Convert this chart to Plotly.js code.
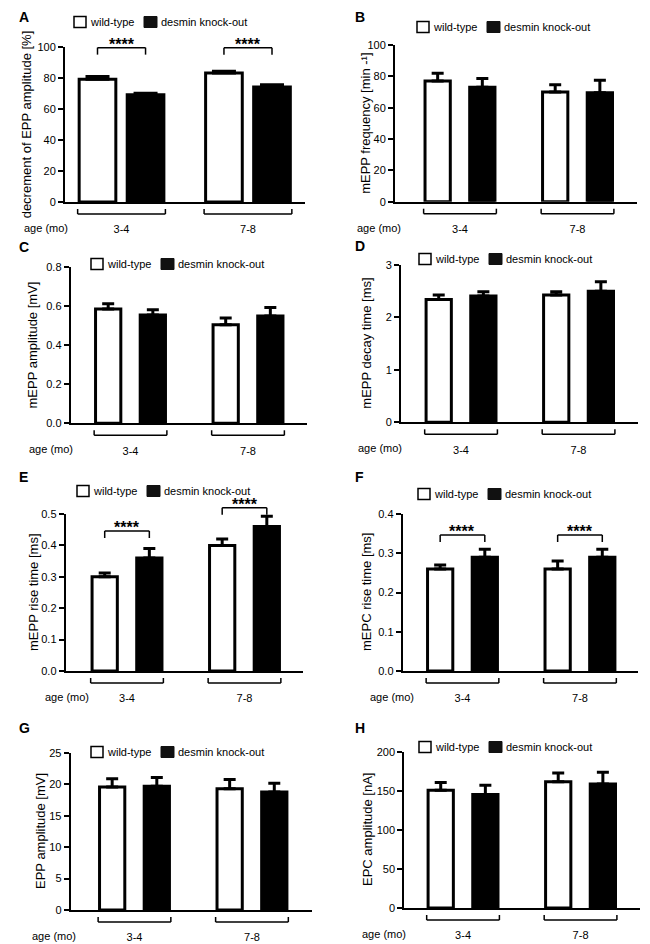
<!DOCTYPE html>
<html><head><meta charset="utf-8">
<script src="https://cdn.plot.ly/plotly-3.0.1.min.js"></script>
<style>html,body{margin:0;padding:0;background:#fff}#chart{width:650px;height:944px}</style>
</head><body><div id="chart"></div>
<script>
// ---------- data ----------
const groups = ['3-4', '7-8'];
const seriesNames = ['wild-type', 'desmin knock-out'];
const panelLetters = ['A', 'B', 'C', 'D', 'E', 'F', 'G', 'H'];
const yTitles = [
  'decrement of EPP amplitude [%]',
  'mEPP frequency [min -\u00B9]',
  'mEPP amplitude [mV]',
  'mEPP decay time [ms]',
  'mEPP rise time [ms]',
  'mEPC rise time [ms]',
  'EPP amplitude [mV]',
  'EPC amplitude [nA]'
];
const ageLabel = 'age (mo)';
const sigLabel = '****';

const wtA = [79, 83];        const wtErrA = [1.8, 1.2];
const koA = [69, 74];        const koErrA = [1.0, 1.5];
const wtB = [77, 70];        const wtErrB = [5.0, 4.7];
const koB = [73, 69.5];      const koErrB = [5.7, 8.0];
const wtC = [0.584, 0.504];  const wtErrC = [0.027, 0.034];
const koC = [0.553, 0.548];  const koErrC = [0.027, 0.043];
const wtD = [2.34, 2.43];    const wtErrD = [0.09, 0.06];
const koD = [2.41, 2.50];    const koErrD = [0.08, 0.18];
const wtE = [0.30, 0.40];    const wtErrE = [0.012, 0.02];
const koE = [0.36, 0.46];    const koErrE = [0.03, 0.033];
const wtF = [0.26, 0.26];    const wtErrF = [0.01, 0.02];
const koF = [0.29, 0.29];    const koErrF = [0.02, 0.02];
const wtG = [19.6, 19.3];    const wtErrG = [1.3, 1.5];
const koG = [19.7, 18.8];    const koErrG = [1.4, 1.4];
const wtH = [151, 162];      const wtErrH = [10, 11];
const koH = [145.5, 159];    const koErrH = [12, 15];

// ---------- layout (pixel geometry of each panel) ----------
const W = 650, H = 944;
const FONT = 'Liberation Sans, Arial, Helvetica, sans-serif';
const panels = [
  {wt: wtA, wtErr: wtErrA, ko: koA, koErr: koErrA, L: 65, R: 305, B: 202, T: 46.7, yMax: 100, dtick: 20, fmt: '', xr: [-0.447, 1.451], bw: 0.29, cap: 12, leg: [74, 22], ageX: 22, titleX: 26, letter: [17, 17], sig: [99.4, 99.4]},
  {wt: wtB, wtErr: wtErrB, ko: koB, koErr: koErrB, L: 395, R: 637, B: 201.7, T: 45, yMax: 100, dtick: 20, fmt: '', xr: [-0.553, 1.506], bw: 0.215, cap: 6, leg: [417, 27], ageX: 355, titleX: 365.5, letter: [353, 17], sig: null},
  {wt: wtC, wtErr: wtErrC, ko: koC, koErr: koErrC, L: 70.7, R: 307, B: 423.3, T: 266.7, yMax: 0.8, dtick: 0.2, fmt: '.1f', xr: [-0.509, 1.502], bw: 0.215, cap: 6, leg: [91, 264], ageX: 27, titleX: 31.5, letter: [17, 247], sig: null},
  {wt: wtD, wtErr: wtErrD, ko: koD, koErr: koErrD, L: 401, R: 638, B: 422.3, T: 265, yMax: 3, dtick: 1, fmt: '', xr: [-0.511, 1.506], bw: 0.215, cap: 6, leg: [419, 259], ageX: 356, titleX: 367, letter: [353, 245.5], sig: null},
  {wt: wtE, wtErr: wtErrE, ko: koE, koErr: koErrE, L: 65.7, R: 303, B: 671, T: 514, yMax: 0.5, dtick: 0.1, fmt: '.1f', xr: [-0.522, 1.498], bw: 0.215, cap: 6, leg: [77, 491], ageX: 43, titleX: 33.5, letter: [17, 477], sig: [0.446, 0.52]},
  {wt: wtF, wtErr: wtErrF, ko: koF, koErr: koErrF, L: 402.7, R: 638, B: 671, T: 514, yMax: 0.4, dtick: 0.1, fmt: '.1f', xr: [-0.509, 1.494], bw: 0.215, cap: 6, leg: [418, 494], ageX: 368, titleX: 366.5, letter: [353, 477], sig: [0.3465, 0.3465]},
  {wt: wtG, wtErr: wtErrG, ko: koG, koErr: koErrG, L: 70.7, R: 312, B: 910, T: 753, yMax: 25, dtick: 5, fmt: '', xr: [-0.543, 1.511], bw: 0.215, cap: 6, leg: [91, 752], ageX: 30, titleX: 40.5, letter: [17, 728], sig: null},
  {wt: wtH, wtErr: wtErrH, ko: koH, koErr: koErrH, L: 404.3, R: 640, B: 908, T: 752, yMax: 200, dtick: 50, fmt: '', xr: [-0.5, 1.506], bw: 0.215, cap: 6, leg: [419, 747], ageX: 360, titleX: 367, letter: [353, 728], sig: null}
];
const HALF = 0.19; // distance from group centre to bar centre (category units)

const px = x => x / W;
const py = y => 1 - y / H;

const traces = [];
const shapes = [];
const annotations = [];
const layout = {
  width: W, height: H,
  margin: {l: 0, r: 0, t: 0, b: 0},
  paper_bgcolor: '#fff', plot_bgcolor: 'rgba(0,0,0,0)',
  showlegend: false, barmode: 'overlay',
  font: {family: FONT, color: '#000', size: 11}
};

panels.forEach((p, i) => {
  const n = i === 0 ? '' : String(i + 1);
  const xid = 'x' + n, yid = 'y' + n;
  const plotH = p.B - p.T;

  layout['xaxis' + n] = {
    domain: [px(p.L), px(p.R)], anchor: yid, type: 'category',
    categoryorder: 'array', categoryarray: groups,
    range: p.xr, showline: true, linewidth: 2, linecolor: '#000',
    ticks: '', showgrid: false, zeroline: false, fixedrange: true,
    tickfont: {size: 11, family: FONT, color: '#000'}, ticklabelstandoff: 16
  };
  layout['yaxis' + n] = {
    domain: [py(p.B), py(p.T)], anchor: xid, range: [0, p.yMax],
    tick0: 0, dtick: p.dtick, tickformat: p.fmt,
    ticks: 'outside', ticklen: 5, tickwidth: 2, tickcolor: '#000',
    showline: true, linewidth: 2, linecolor: '#000',
    showgrid: false, zeroline: false, fixedrange: true,
    tickfont: {size: 11, family: FONT, color: '#000'}
  };

  // y-axis title (rotated text, centred on the plot area)
  annotations.push({xref: 'paper', yref: 'paper', x: px(p.titleX), y: py((p.B + p.T) / 2),
    xanchor: 'center', yanchor: 'middle', textangle: -90, showarrow: false,
    text: yTitles[i], font: {size: 13, family: FONT, color: '#000'}});

  const series = [
    {y: p.wt, err: p.wtErr, fill: '#ffffff', off: -HALF},
    {y: p.ko, err: p.koErr, fill: '#000000', off: HALF}
  ];
  series.forEach((s, k) => {
    traces.push({
      type: 'bar', name: seriesNames[k], x: groups, y: s.y,
      xaxis: xid, yaxis: yid,
      width: p.bw, offset: s.off - p.bw / 2,
      marker: {color: s.fill, line: {color: '#000', width: 3}},
      error_y: {type: 'data', symmetric: false, array: s.err,
                arrayminus: s.err.map(() => 0), color: '#000', thickness: 3, width: p.cap},
      hoverinfo: 'skip', showlegend: false
    });
  });

  // group brackets under the x axis
  const gh = HALF + p.bw / 2 + 0.012;
  const yb = -12 / plotH, yt = -7 / plotH;
  const ydom = yid + ' domain';
  groups.forEach((g, gi) => {
    const ln = {color: '#000', width: 1.5};
    shapes.push({type: 'line', xref: xid, yref: ydom, x0: gi - gh, x1: gi + gh, y0: yb, y1: yb, line: ln});
    shapes.push({type: 'line', xref: xid, yref: ydom, x0: gi - gh, x1: gi - gh, y0: yb, y1: yt, line: ln});
    shapes.push({type: 'line', xref: xid, yref: ydom, x0: gi + gh, x1: gi + gh, y0: yb, y1: yt, line: ln});
  });

  // significance brackets
  if (p.sig) {
    groups.forEach((g, gi) => {
      const sy = p.sig[gi] / p.yMax;
      const sd = sy - 7 / plotH;
      const ln = {color: '#000', width: 1.5};
      shapes.push({type: 'line', xref: xid, yref: ydom, x0: gi - HALF, x1: gi + HALF, y0: sy, y1: sy, line: ln});
      shapes.push({type: 'line', xref: xid, yref: ydom, x0: gi - HALF, x1: gi - HALF, y0: sy, y1: sd, line: ln});
      shapes.push({type: 'line', xref: xid, yref: ydom, x0: gi + HALF, x1: gi + HALF, y0: sy, y1: sd, line: ln});
      annotations.push({xref: xid, yref: ydom, x: gi, y: sy, text: sigLabel, showarrow: false,
        yanchor: 'bottom', yshift: -7, font: {size: 16, family: FONT, color: '#000', weight: 'bold'}});
    });
  }

  // legend (drawn as key squares + labels)
  const [lx, ly] = p.leg;
  shapes.push({type: 'rect', xref: 'paper', yref: 'paper', x0: px(lx), x1: px(lx + 12), y0: py(ly + 5.5), y1: py(ly - 5.5),
    fillcolor: '#fff', line: {color: '#000', width: 1.5}});
  shapes.push({type: 'rect', xref: 'paper', yref: 'paper', x0: px(lx + 70), x1: px(lx + 83), y0: py(ly + 5.5), y1: py(ly - 5.5),
    fillcolor: '#111', line: {color: '#111', width: 1}});
  annotations.push({xref: 'paper', yref: 'paper', x: px(lx + 14), y: py(ly), xanchor: 'left', yanchor: 'middle',
    text: seriesNames[0], showarrow: false, font: {size: 11, family: FONT, color: '#000'}});
  annotations.push({xref: 'paper', yref: 'paper', x: px(lx + 85), y: py(ly), xanchor: 'left', yanchor: 'middle',
    text: seriesNames[1], showarrow: false, font: {size: 11, family: FONT, color: '#000'}});

  // age label
  annotations.push({xref: 'paper', yref: 'paper', x: px(p.ageX), y: py(p.B + 26), xanchor: 'left', yanchor: 'middle',
    text: ageLabel, showarrow: false, font: {size: 11, family: FONT, color: '#000'}});

  // panel letter
  annotations.push({xref: 'paper', yref: 'paper', x: px(p.letter[0]), y: py(p.letter[1]), xanchor: 'left', yanchor: 'middle',
    text: panelLetters[i], showarrow: false, font: {size: 14, family: FONT, color: '#000', weight: 'bold'}});
});

layout.shapes = shapes;
layout.annotations = annotations;

Plotly.newPlot('chart', traces, layout, {displayModeBar: false, staticPlot: true});
</script>
</body></html>
